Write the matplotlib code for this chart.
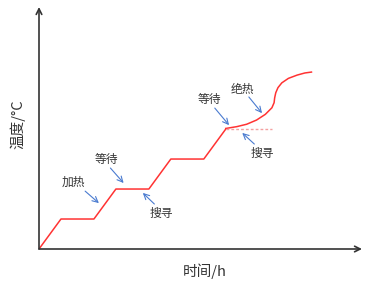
import matplotlib.pyplot as plt

plt.rcParams['font.family'] = ['Noto Sans CJK SC', 'DejaVu Sans']

# 阶梯升温 (时间 h, 温度)
t_step = [0, 2, 5, 7, 10, 12, 15, 17]
T_step = [0, 10, 10, 20, 20, 30, 30, 40]

# 绝热段曲线
t_adi = [17.0, 18.0, 18.9, 19.8, 20.6, 21.2, 21.4, 21.45, 21.55, 21.75,
         22.1, 22.7, 23.5, 24.2, 24.8]
T_adi = [40.2, 40.8, 41.6, 43.0, 44.9, 47.1, 48.8, 50.4, 52.1, 53.8,
         55.4, 56.9, 58.0, 58.7, 59.0]

# 搜寻虚线
t_dash = [17, 21.2]
T_dash = [40, 40]

# 标注: 文字, 文字位置, 箭头起点, 箭头终点
labels = ['加热', '等待', '搜寻', '等待', '绝热', '搜寻']
text_pos = [(3.1, 22.3), (6.1, 29.7), (11.1, 12.0), (15.5, 49.7), (18.5, 53.3), (20.3, 32.0)]
arrow_from = [(4.2, 19.3), (6.5, 27.0), (10.5, 15.0), (16.0, 47.0), (19.1, 50.7), (19.6, 35.0)]
arrow_to = [(5.45, 15.3), (7.7, 22.0), (9.45, 18.7), (17.3, 41.3), (20.3, 45.3), (18.5, 38.7)]

fig = plt.figure(figsize=(3.87, 2.90), dpi=100)
ax = fig.add_axes([39 / 387, 41 / 290, 323 / 387, 242 / 290])
ax.set_xlim(0, 29.4)
ax.set_ylim(0, 80.7)

ax.plot(t_step, T_step, color='#ff3333', lw=1.1)
ax.plot(t_adi, T_adi, color='#ff3333', lw=1.1, solid_joinstyle='round')
ax.plot(t_dash, T_dash, color='#f4a0a0', lw=1.0, ls=(0, (2, 1.5)))

for s, p, a, b in zip(labels, text_pos, arrow_from, arrow_to):
    ax.text(p[0], p[1], s, fontsize=8.5, color='#333333', ha='center', va='center')
    ax.annotate('', xy=b, xytext=a,
                arrowprops=dict(arrowstyle='->', color='#4a7bd0', lw=0.8,
                                shrinkA=0, shrinkB=0))

# 坐标轴带箭头
for side in ['top', 'right', 'left', 'bottom']:
    ax.spines[side].set_visible(False)
ax.annotate('', xy=(1, 0), xytext=(0, 0), xycoords='axes fraction',
            arrowprops=dict(arrowstyle='->', color='#333333', lw=1.2,
                            shrinkA=0, shrinkB=0))
ax.annotate('', xy=(0, 1), xytext=(0, 0), xycoords='axes fraction',
            arrowprops=dict(arrowstyle='->', color='#333333', lw=1.2,
                            shrinkA=0, shrinkB=0))
ax.set_xticks([])
ax.set_yticks([])

fig.text(205 / 387, 1 - 271 / 290, '时间/h', fontsize=10.5, color='#333333',
         ha='center', va='center')
fig.text(18 / 387, 1 - 124 / 290, '温度/°C', fontsize=10.5, color='#333333',
         ha='center', va='center', rotation=90)

fig.savefig('out.png', dpi=100)
